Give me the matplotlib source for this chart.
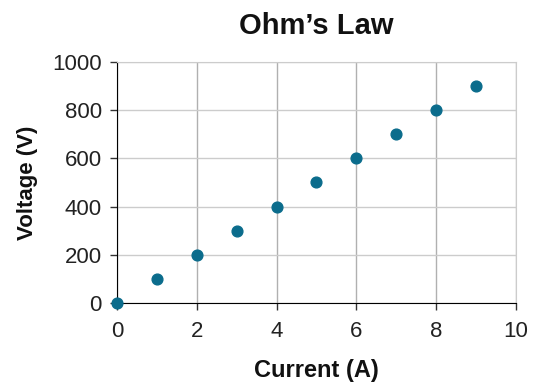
import matplotlib
matplotlib.use("Agg")
import matplotlib.pyplot as plt

plt.rcParams['font.family'] = ['Liberation Sans', 'DejaVu Sans']

# data
current = [0, 1, 2, 3, 4, 5, 6, 7, 8, 9]
voltage = [0, 100, 200, 300, 400, 500, 600, 700, 800, 900]
x_ticks = [0, 2, 4, 6, 8, 10]
y_ticks = [0, 200, 400, 600, 800, 1000]

fig = plt.figure(figsize=(5.34, 3.82), dpi=100)
ax = fig.add_axes([0.219, 0.207, 0.747, 0.631])

ax.scatter(current, voltage, s=60, color='#0b6c8c', zorder=3, clip_on=False)

ax.set_xlim(0, 10)
ax.set_ylim(0, 1000)
ax.set_xticks(x_ticks)
ax.set_yticks(y_ticks)
ax.tick_params(labelsize=16, length=5, width=1, color='#333333', pad=4,
               labelcolor='#222222')
ax.tick_params(axis='x', pad=8)
ax.tick_params(axis='y', pad=6)

# grid
ax.xaxis.grid(True, color='#b0b0b0', linewidth=1)
ax.yaxis.grid(True, color='#cccccc', linewidth=1)
ax.set_axisbelow(True)

ax.spines['left'].set_color('black')
ax.spines['bottom'].set_color('black')
ax.spines['top'].set_color('#cccccc')
ax.spines['right'].set_color('#cccccc')

ax.set_title("Ohm\u2019s Law", fontsize=21, fontweight='bold', pad=20, color='#111111')
ax.set_xlabel("Current (A)", fontsize=17, fontweight='bold', labelpad=12, color='#111111')
ax.set_ylabel("Voltage (V)", fontsize=16, fontweight='bold', labelpad=10, color='#111111')

fig.savefig("out.png", dpi=100)
